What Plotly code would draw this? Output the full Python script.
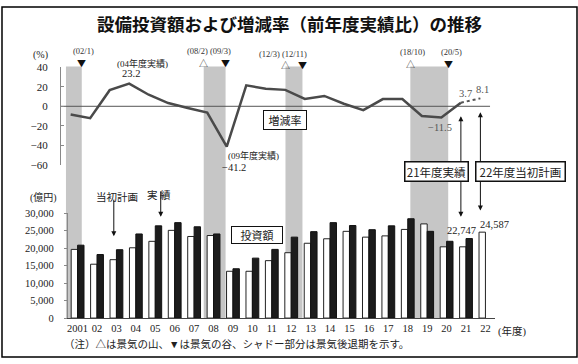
import plotly.graph_objects as go

W, H = 578, 364

def px(x):
    return x / W

def py(y):
    return 1 - y / H

# ---------------- data ----------------
years = ["2001", "02", "03", "04", "05", "06", "07", "08", "09", "10", "11",
         "12", "13", "14", "15", "16", "17", "18", "19", "20", "21", "22"]
plan_amount = [19650, 15410, 16710, 20110, 21960, 25100, 23350, 23620, 13390, 13390, 16430,
               18700, 21410, 22690, 24820, 23160, 23520, 25370, 26950, 20390, 20390, 24587]
actual_amount = [20860, 18180, 19560, 24070, 26390, 27310, 26120, 24070, 14110, 17150, 19650,
                 23160, 24730, 27310, 26480, 25290, 26390, 28420, 24820, 21970, 22747, None]
rate_actual = [-8.5, -12.2, 16.5, 23.2, 11.8, 3.3, -1.8, -6.4, -41.2, 21.4, 18.0,
               16.8, 7.5, 10.6, 2.6, -4.0, 7.4, 7.4, -10.0, -11.5, 3.7]
rate_plan_2022 = 8.1

# business-cycle recessions (in year-index units): start (peak), end (trough)
rec_start = [-0.24, 6.82, 11.01, 17.41]
rec_end = [0.57, 7.94, 11.88, 19.35]
peak_labels = [None, "(08/2)", "(12/3)", "(18/10)"]
trough_labels = ["(02/1)", "(09/3)", "(12/11)", "(20/5)"]

rate_ticks = [-60, -40, -20, 0, 20, 40]
amount_ticks = [0, 5000, 10000, 15000, 20000, 25000, 30000]

# label placement (pixels)
peak_shift = [0, -6, -16, 2]
trough_shift = [2, -5, -8, 3]
label_y = [47, 47, 50, 48]
mark_y = [59, 59, 61.5, 60]

SERIF = "Liberation Serif, Noto Sans CJK JP, serif"
JP = "Noto Sans CJK JP, sans-serif"
idx = list(range(len(years)))

fig = go.Figure()

fig.add_trace(go.Bar(x=years, y=plan_amount, name="当初計画", xaxis="x", yaxis="y",
                     marker=dict(color="white", line=dict(color="#222", width=1))))
fig.add_trace(go.Bar(x=years, y=actual_amount, name="実績", xaxis="x", yaxis="y",
                     marker=dict(color="#1c1c1c", line=dict(color="#111", width=1))))
fig.add_trace(go.Scatter(x=idx[:len(rate_actual)], y=rate_actual, mode="lines", xaxis="x2", yaxis="y2",
                         line=dict(color="#4a4a4a", width=2.5)))
fig.add_trace(go.Scatter(x=[idx[len(rate_actual) - 1], idx[len(rate_actual)]],
                         y=[rate_actual[-1], rate_plan_2022], mode="lines", xaxis="x2", yaxis="y2",
                         line=dict(color="#555", width=2, dash="dot")))

shapes = []
for s, e in zip(rec_start, rec_end):
    shapes.append(dict(type="rect", xref="x2", yref="paper", x0=s, x1=e, y0=py(323), y1=py(62.5),
                       fillcolor="#c6c6c6", line=dict(width=0), layer="below"))
shapes.append(dict(type="line", xref="x2", yref="y2", x0=-0.5, x1=21.5, y0=0, y1=0,
                   line=dict(color="#555", width=1), layer="below"))
shapes.append(dict(type="rect", xref="paper", yref="paper", x0=px(1), x1=px(577), y0=py(363), y1=py(1),
                   line=dict(color="black", width=1.5), layer="above"))

ann = []

def text(x, y, t, size=10, font=SERIF, color="#222", xanchor="center", **kw):
    d = dict(x=px(x), y=py(y), xref="paper", yref="paper", text=t, showarrow=False,
             font=dict(family=font, size=size, color=color), xanchor=xanchor, yanchor="middle")
    d.update(kw)
    ann.append(d)

# title
text(289, 18, "<b>設備投資額および増減率（前年度実績比）の推移</b>", size=17.5, font=JP, color="#111")
text(40, 50.5, "(%)", size=10)

# recession markers
for k, (s, e, pl, tl) in enumerate(zip(rec_start, rec_end, peak_labels, trough_labels)):
    if pl is not None:
        ann.append(dict(x=s, y=py(mark_y[k]), xref="x2", yref="paper", text="△", showarrow=False,
                        font=dict(family=JP, size=9, color="#333"), yanchor="middle"))
        ann.append(dict(x=s, y=py(label_y[k]), xref="x2", yref="paper", text=pl, showarrow=False,
                        font=dict(family=SERIF, size=8.5, color="#333"), yanchor="middle",
                        xshift=peak_shift[k]))
    ann.append(dict(x=e, y=py(mark_y[k]), xref="x2", yref="paper", text="▼", showarrow=False,
                    font=dict(family=JP, size=9, color="#111"), yanchor="middle"))
    ann.append(dict(x=e, y=py(label_y[k]), xref="x2", yref="paper", text=tl, showarrow=False,
                    font=dict(family=SERIF, size=8.5, color="#333"), yanchor="middle",
                    xshift=trough_shift[k]))

text(141.7, 59.3, "(04年度実績)", size=9)
text(130, 70, "23.2", size=10.5)
text(253, 155, "(09年度実績)", size=9)
text(233, 166.7, "−41.2", size=10.5)
text(440, 126, "−11.5", size=10.5, color="#555")
text(465, 90, "3.7", size=10.5, color="#555")
text(482, 86.5, "8.1", size=10.5, color="#555")
text(43, 197.7, "(億円)", size=10)
text(512, 336.7, "(年度)", size=10.5)
text(61, 350, "（注）△は景気の山、▼は景気の谷、シャドー部分は景気後退期を示す。", size=10.5, xanchor="left")
text(461, 231.7, "22,747", size=10.5)
text(494, 225.7, "24,587", size=10.5)

# arrows
def arrow(xref, x, y_head, y_tail):
    ann.append(dict(x=x, y=py(y_head), xref=xref, yref="paper", ax=0, ay=y_tail - y_head,
                    axref="pixel", ayref="pixel", text="", showarrow=True, arrowhead=2,
                    arrowsize=1, arrowwidth=1, arrowcolor="#111", standoff=0, startstandoff=0))

arrow("x2", 20, 114, 168)
arrow("x2", 20, 218, 172)
arrow("x2", 21, 110, 168)
arrow("x2", 21, 211.5, 172)
ann.append(dict(x=px(113), y=py(238), xref="paper", yref="paper", ax=0, ay=-38, text="", showarrow=True,
                arrowhead=2, arrowsize=1, arrowwidth=1, arrowcolor="#111", standoff=0))
ann.append(dict(x=px(160), y=py(218), xref="paper", yref="paper", ax=0, ay=-27, text="", showarrow=True,
                arrowhead=2, arrowsize=1, arrowwidth=1, arrowcolor="#111", standoff=0))

text(116, 197.3, "当初計画", size=10.5)
text(158, 195, "実 績", size=10.5)

# boxes
text(284.7, 118.3, "増減率", size=11, font=JP, bordercolor="#111", borderwidth=1, bgcolor="white",
     borderpad=1, width=40)
text(256, 236.5, "投資額", size=11, font=JP, bordercolor="#111", borderwidth=1, bgcolor="white",
     borderpad=0, width=50)
text(436.5, 170.8, "21年度実績", size=11.5, font=JP, bordercolor="#111", borderwidth=1.5,
     bgcolor="white", borderpad=1, width=60)
text(520, 170.8, "22年度当初計画", size=11.5, font=JP, bordercolor="#111", borderwidth=1.5,
     bgcolor="white", borderpad=1, width=86)

fig.update_layout(
    width=W, height=H, margin=dict(l=0, r=0, t=0, b=0),
    paper_bgcolor="white", plot_bgcolor="rgba(0,0,0,0)",
    showlegend=False, barmode="group", bargap=0.34, bargroupgap=0,
    shapes=shapes, annotations=ann,
    xaxis=dict(domain=[px(67), px(495)], type="category", range=[-0.5, 21.5], anchor="y",
               showline=True, linecolor="#444", linewidth=1, ticks="", showgrid=False,
               tickfont=dict(family=SERIF, size=10.5, color="#222")),
    yaxis=dict(domain=[py(322.7), py(214.3)], range=[0, 30000], anchor="x",
               tickvals=amount_ticks, tickformat=",", showline=True, linecolor="#888",
               ticks="outside", ticklen=3, tickcolor="#888", showgrid=False, zeroline=False,
               ticklabelstandoff=8, tickfont=dict(family=SERIF, size=10.5, color="#222")),
    xaxis2=dict(domain=[px(60), px(490)], range=[-0.5, 21.5], anchor="y2", visible=False),
    yaxis2=dict(domain=[py(164.3), py(63.3)], range=[-60, 40], anchor="x2",
                tickvals=rate_ticks, ticktext=[str(v).replace("-", "−") for v in rate_ticks],
                showline=True, linecolor="#888", ticks="inside", ticklen=3, tickcolor="#888",
                showgrid=False, zeroline=False, ticklabelstandoff=10,
                tickfont=dict(family=SERIF, size=11, color="#222")),
)

fig.write_html("out.html", config={"displayModeBar": False},
               post_script="document.body.style.margin='0';document.body.style.overflow='hidden';")
